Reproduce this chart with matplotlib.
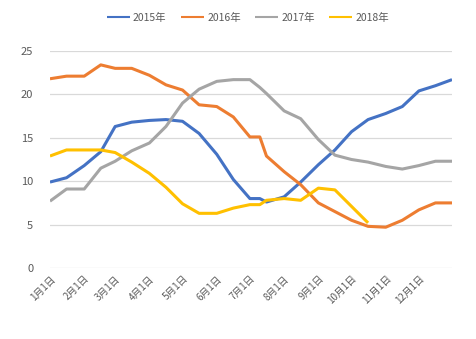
from datetime import date

import matplotlib
matplotlib.use('Agg')
import matplotlib.pyplot as plt
import numpy as np

plt.rcParams['font.family'] = ['Noto Sans CJK SC', 'DejaVu Sans']

# sample dates (half-monthly, plus one extra point in July)
DATES = [date(2015, 1, 1), date(2015, 1, 16), date(2015, 2, 1), date(2015, 2, 16),
         date(2015, 3, 1), date(2015, 3, 16), date(2015, 4, 1), date(2015, 4, 16),
         date(2015, 5, 1), date(2015, 5, 16), date(2015, 6, 1), date(2015, 6, 16),
         date(2015, 7, 1), date(2015, 7, 10), date(2015, 7, 16), date(2015, 8, 1),
         date(2015, 8, 16), date(2015, 9, 1), date(2015, 9, 16), date(2015, 10, 1),
         date(2015, 10, 16), date(2015, 11, 1), date(2015, 11, 16), date(2015, 12, 1),
         date(2015, 12, 16), date(2015, 12, 31)]

Y2015 = [9.9, 10.4, 11.8, 13.4, 16.3, 16.8, 17.0, 17.1, 16.9, 15.5, 13.1, 10.2, 8.0,
         8.0, 7.6, 8.2, 9.9, 11.9, 13.6, 15.7, 17.1, 17.8, 18.6, 20.4, 21.0, 21.7]
Y2016 = [21.8, 22.1, 22.1, 23.4, 23.0, 23.0, 22.2, 21.1, 20.5, 18.8, 18.6, 17.4, 15.1,
         15.1, 12.9, 11.1, 9.6, 7.5, 6.5, 5.5, 4.8, 4.7, 5.5, 6.7, 7.5, 7.5]
Y2017 = [7.7, 9.1, 9.1, 11.5, 12.3, 13.5, 14.4, 16.3, 19.0, 20.6, 21.5, 21.7, 21.7,
         20.8, 20.1, 18.1, 17.2, 14.8, 13.0, 12.5, 12.2, 11.7, 11.4, 11.8, 12.3, 12.3]
Y2018 = [12.9, 13.6, 13.6, 13.6, 13.3, 12.2, 10.9, 9.3, 7.4, 6.3, 6.3, 6.9, 7.3,
         7.3, 7.8, 8.0, 7.8, 9.2, 9.0, 7.1, 5.2, np.nan, np.nan, np.nan, np.nan, np.nan]

SERIES = ['2015年', '2016年', '2017年', '2018年']
COLORS = ['#4472C4', '#ED7D31', '#A5A5A5', '#FFC000']

fig = plt.figure(figsize=(4.77, 3.39), dpi=100)
ax = fig.add_axes([0.1048, 0.2094, 0.8428, 0.6402])

for name, values, color in zip(SERIES, [Y2015, Y2016, Y2017, Y2018], COLORS):
    ax.plot(DATES, values, color=color, linewidth=2.2, label=name,
            solid_joinstyle='round', solid_capstyle='butt')

ax.set_ylim(0, 25)
ax.set_yticks([0, 5, 10, 15, 20, 25])
ax.set_xlim(date(2015, 1, 1), date(2015, 12, 31))

months = [date(2015, m, 1) for m in range(1, 13)]
ax.set_xticks(months)
ax.set_xticklabels([f'{m}月1日' for m in range(1, 13)], rotation=45, ha='right',
                   rotation_mode='anchor', fontsize=7, color='#6f6f6f')

ax.grid(axis='y', color='#D9D9D9', linewidth=0.9)
ax.set_axisbelow(True)
for sp in ax.spines.values():
    sp.set_visible(False)
ax.tick_params(axis='both', length=0, colors='#595959')
ax.tick_params(axis='y', pad=12, labelsize=8)
ax.tick_params(axis='x', pad=4)

leg = fig.legend(loc='upper center', bbox_to_anchor=(0.52, 0.99), ncol=4, frameon=False,
                 fontsize=7.5, labelcolor='#595959', handlelength=2.2, columnspacing=1.4,
                 handletextpad=0.3)
for line in leg.get_lines():
    line.set_linewidth(1.5)

fig.savefig('out.png', dpi=100)
